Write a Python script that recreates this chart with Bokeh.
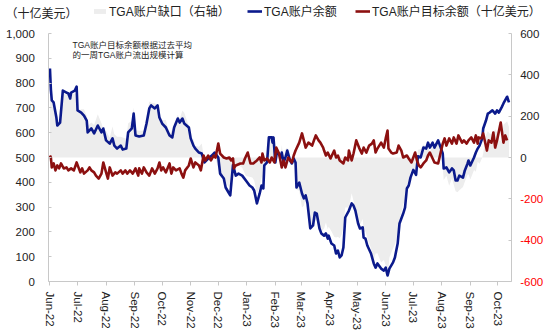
import pandas as pd
from bokeh.plotting import figure
from bokeh.models import (ColumnDataSource, Range1d, LinearAxis, FixedTicker, MonthsTicker,
                          DatetimeTickFormatter, NumeralTickFormatter, Legend, LegendItem, Label)
from bokeh.embed import file_html
from bokeh.resources import INLINE

# ---------------- data (US$ bn) ----------------
balance_dates = [
    "2022-06-01", "2022-06-02", "2022-06-03", "2022-06-05", "2022-06-08", "2022-06-09", "2022-06-12",
    "2022-06-15", "2022-06-19", "2022-06-21", "2022-06-23", "2022-06-24", "2022-06-28", "2022-06-30",
    "2022-07-01", "2022-07-05", "2022-07-08", "2022-07-11", "2022-07-12", "2022-07-16", "2022-07-19",
    "2022-07-23", "2022-07-27", "2022-07-29", "2022-08-01", "2022-08-05", "2022-08-08", "2022-08-10",
    "2022-08-13", "2022-08-17", "2022-08-19", "2022-08-23", "2022-08-25", "2022-08-29", "2022-08-31",
    "2022-09-02", "2022-09-06", "2022-09-11", "2022-09-14", "2022-09-17", "2022-09-19", "2022-09-23",
    "2022-09-26", "2022-09-28", "2022-10-01", "2022-10-05", "2022-10-09", "2022-10-12", "2022-10-14",
    "2022-10-18", "2022-10-20", "2022-10-23", "2022-10-25", "2022-10-30", "2022-11-01", "2022-11-04",
    "2022-11-06", "2022-11-10", "2022-11-13", "2022-11-16", "2022-11-20", "2022-11-24", "2022-11-27",
    "2022-12-01", "2022-12-03", "2022-12-07", "2022-12-09", "2022-12-12", "2022-12-14", "2022-12-17",
    "2022-12-20", "2022-12-23", "2022-12-27", "2022-12-31", "2023-01-04", "2023-01-07", "2023-01-09",
    "2023-01-12", "2023-01-15", "2023-01-17", "2023-01-19", "2023-01-20", "2023-01-23", "2023-01-25",
    "2023-01-28", "2023-01-29", "2023-01-30", "2023-02-01", "2023-02-03", "2023-02-07", "2023-02-08",
    "2023-02-10", "2023-02-12", "2023-02-14", "2023-02-17", "2023-02-19", "2023-02-21", "2023-02-23",
    "2023-02-24", "2023-02-27", "2023-03-02", "2023-03-04", "2023-03-06", "2023-03-08", "2023-03-11",
    "2023-03-14", "2023-03-16", "2023-03-18", "2023-03-21", "2023-03-23", "2023-03-26", "2023-03-28",
    "2023-03-30", "2023-03-31", "2023-04-03", "2023-04-06", "2023-04-08", "2023-04-10", "2023-04-12",
    "2023-04-14", "2023-04-16", "2023-04-18", "2023-04-22", "2023-04-25", "2023-04-27", "2023-04-29",
    "2023-05-02", "2023-05-04", "2023-05-07", "2023-05-08", "2023-05-10", "2023-05-12", "2023-05-16",
    "2023-05-19", "2023-05-21", "2023-05-23", "2023-05-27", "2023-05-30", "2023-06-01", "2023-06-03",
    "2023-06-05", "2023-06-09", "2023-06-11", "2023-06-14", "2023-06-16", "2023-06-20", "2023-06-22",
    "2023-06-24", "2023-06-26", "2023-06-28", "2023-07-01", "2023-07-04", "2023-07-06", "2023-07-09",
    "2023-07-12", "2023-07-15", "2023-07-17", "2023-07-19", "2023-07-22", "2023-07-24", "2023-07-28",
    "2023-07-30", "2023-08-02", "2023-08-03", "2023-08-06", "2023-08-09", "2023-08-12", "2023-08-14",
    "2023-08-16", "2023-08-18", "2023-08-20", "2023-08-24", "2023-08-26", "2023-08-29", "2023-08-30",
    "2023-09-01", "2023-09-05", "2023-09-07", "2023-09-09", "2023-09-11", "2023-09-14", "2023-09-15",
    "2023-09-18", "2023-09-20", "2023-09-22", "2023-09-25", "2023-09-28", "2023-09-30", "2023-10-02",
    "2023-10-05", "2023-10-07", "2023-10-11", "2023-10-13",
]
balance_values = [
    859, 775, 730, 722, 661, 629, 641,
    770, 762, 758, 738, 762, 770, 786,
    690, 681, 669, 649, 601, 617, 597,
    629, 601, 617, 569, 556, 577, 548,
    536, 548, 532, 536, 601, 617, 677,
    589, 585, 589, 637, 698, 710, 698,
    710, 661, 637, 621, 589, 581, 621,
    657, 641, 657, 637, 621, 577, 548,
    536, 520, 516, 480, 496, 508, 520,
    500, 435, 415, 379, 360, 347, 470,
    427, 435, 427, 407, 387, 379, 367,
    315, 355, 387, 375, 468, 480, 581,
    581, 560, 581, 480, 528, 500, 520,
    480, 500, 528, 488, 476, 496, 480,
    379, 399, 355, 335, 347, 315, 214,
    226, 278, 274, 214, 194, 185, 194,
    173, 185, 153, 145, 113, 125, 97,
    105, 137, 258, 286, 315, 306, 286,
    234, 214, 218, 177, 173, 145, 113,
    73, 56, 73, 52, 44, 56, 24,
    52, 77, 97, 153, 234, 274, 298,
    375, 387, 420, 450, 430, 505, 500,
    540, 536, 560, 540, 560, 540, 569,
    548, 516, 456, 460, 440, 456, 448,
    407, 407, 427, 419, 448, 476, 488,
    468, 500, 520, 536, 548, 577, 617,
    649, 677, 681, 690, 677, 690, 681,
    702, 718, 745, 722,
]

target_dates = [
    "2022-06-01", "2022-06-02", "2022-06-03", "2022-06-05", "2022-06-07", "2022-06-09", "2022-06-11",
    "2022-06-13", "2022-06-16", "2022-06-19", "2022-06-21", "2022-06-24", "2022-06-27", "2022-06-30",
    "2022-07-02", "2022-07-04", "2022-07-06", "2022-07-08", "2022-07-12", "2022-07-14", "2022-07-16",
    "2022-07-19", "2022-07-21", "2022-07-24", "2022-07-27", "2022-07-29", "2022-08-01", "2022-08-03",
    "2022-08-05", "2022-08-08", "2022-08-11", "2022-08-13", "2022-08-17", "2022-08-19", "2022-08-22",
    "2022-08-24", "2022-08-27", "2022-08-30", "2022-09-02", "2022-09-05", "2022-09-06", "2022-09-09",
    "2022-09-11", "2022-09-14", "2022-09-17", "2022-09-20", "2022-09-23", "2022-09-26", "2022-09-28",
    "2022-09-30", "2022-10-02", "2022-10-05", "2022-10-09", "2022-10-11", "2022-10-13", "2022-10-16",
    "2022-10-20", "2022-10-22", "2022-10-24", "2022-10-26", "2022-10-30", "2022-11-01", "2022-11-04",
    "2022-11-06", "2022-11-10", "2022-11-12", "2022-11-15", "2022-11-17", "2022-11-20", "2022-11-23",
    "2022-11-26", "2022-11-28", "2022-12-01", "2022-12-03", "2022-12-07", "2022-12-10", "2022-12-13",
    "2022-12-15", "2022-12-17", "2022-12-18", "2022-12-20", "2022-12-25", "2022-12-28", "2022-12-30",
    "2023-01-02", "2023-01-05", "2023-01-08", "2023-01-12", "2023-01-15", "2023-01-17", "2023-01-18",
    "2023-01-20", "2023-01-23", "2023-01-26", "2023-01-28", "2023-01-31", "2023-02-02", "2023-02-05",
    "2023-02-08", "2023-02-10", "2023-02-12", "2023-02-15", "2023-02-19", "2023-02-21", "2023-02-23",
    "2023-02-27", "2023-03-02", "2023-03-04", "2023-03-06", "2023-03-09", "2023-03-13", "2023-03-15",
    "2023-03-17", "2023-03-20", "2023-03-22", "2023-03-25", "2023-03-26", "2023-03-28", "2023-03-30",
    "2023-04-02", "2023-04-06", "2023-04-08", "2023-04-10", "2023-04-12", "2023-04-16", "2023-04-18",
    "2023-04-21", "2023-04-22", "2023-04-25", "2023-04-27", "2023-04-30", "2023-05-03", "2023-05-06",
    "2023-05-08", "2023-05-11", "2023-05-14", "2023-05-17", "2023-05-19", "2023-05-21", "2023-05-23",
    "2023-05-27", "2023-05-30", "2023-06-01", "2023-06-03", "2023-06-04", "2023-06-07", "2023-06-09",
    "2023-06-13", "2023-06-15", "2023-06-18", "2023-06-20", "2023-06-24", "2023-06-26", "2023-06-29",
    "2023-07-01", "2023-07-03", "2023-07-05", "2023-07-07", "2023-07-09", "2023-07-12", "2023-07-15",
    "2023-07-17", "2023-07-19", "2023-07-22", "2023-07-24", "2023-07-28", "2023-07-30", "2023-08-02",
    "2023-08-04", "2023-08-06", "2023-08-09", "2023-08-12", "2023-08-14", "2023-08-17", "2023-08-19",
    "2023-08-23", "2023-08-25", "2023-08-28", "2023-08-30", "2023-09-02", "2023-09-05", "2023-09-07",
    "2023-09-09", "2023-09-10", "2023-09-13", "2023-09-15", "2023-09-19", "2023-09-21", "2023-09-24",
    "2023-09-26", "2023-09-28", "2023-09-30", "2023-10-04", "2023-10-07", "2023-10-09", "2023-10-11",
]
target_values = [
    508, 500, 460, 476, 448, 468, 456,
    476, 456, 460, 448, 456, 448, 480,
    460, 440, 456, 435, 448, 460, 448,
    440, 427, 415, 435, 480, 440, 415,
    460, 427, 440, 435, 448, 435, 448,
    435, 448, 435, 456, 427, 456, 435,
    460, 440, 427, 456, 435, 456, 480,
    448, 460, 440, 476, 435, 460, 448,
    456, 435, 419, 448, 468, 496, 460,
    480, 468, 448, 508, 488, 508, 488,
    508, 500, 556, 516, 500, 496, 500,
    488, 496, 456, 468, 476, 476, 496,
    520, 476, 476, 488, 500, 480, 516,
    488, 496, 480, 500, 480, 540, 516,
    460, 488, 460, 500, 480, 508, 528,
    560, 597, 569, 540, 560, 548, 569,
    589, 569, 560, 540, 528, 508, 520,
    496, 528, 500, 508, 488, 476, 500,
    488, 528, 488, 516, 569, 540, 516,
    540, 520, 548, 556, 569, 520, 536,
    560, 540, 577, 609, 536, 520, 516,
    520, 548, 528, 500, 508, 496, 480,
    500, 520, 488, 468, 460, 476, 488,
    508, 520, 496, 480, 476, 508, 556,
    577, 548, 577, 556, 581, 556, 589,
    560, 569, 556, 569, 581, 560, 589,
    556, 581, 577, 597, 528, 569, 560,
    601, 540, 569, 641, 560, 589, 569,
]

# TGA shortfall (balance minus target), right axis
gap_dates = balance_dates
gap_values = [
    351, 285, 270, 246, 203, 161, 175,
    314, 302, 306, 286, 306, 310, 306,
    220, 233, 234, 201, 153, 169, 157,
    209, 166, 137, 129, 96, 150, 113,
    101, 100, 97, 91, 166, 177, 242,
    133, 129, 129, 197, 271, 265, 263,
    254, 181, 182, 181, 113, 136, 161,
    207, 185, 227, 217, 153, 81, 88,
    56, 52, 68, -20, -12, 20, 15,
    -56, -81, -85, -119, -140, -143, -26,
    -41, -37, -49, -89, -93, -97, -111,
    -173, -145, -93, -130, -32, -16, 93,
    81, 70, 96, -30, -2, 20, 60,
    -8, 40, 48, -2, -4, -12, -48,
    -156, -161, -242, -234, -193, -235, -341,
    -334, -302, -306, -351, -361, -343, -314,
    -347, -335, -357, -383, -387, -383, -391,
    -375, -339, -242, -242, -173, -210, -254,
    -321, -326, -298, -363, -357, -390, -439,
    -496, -464, -463, -508, -496, -521, -585,
    -484, -439, -421, -367, -306, -226, -207,
    -133, -109, -68, -50, -70, 37, 40,
    64, 48, 52, 20, 64, 60, 93,
    40, -40, -109, -88, -137, -100, -133,
    -163, -168, -158, -143, -117, -84, -81,
    -107, -60, -69, -20, -30, 0, 20,
    109, 127, 116, 110, 137, 121, 81,
    82, 158, 176, 147,
]

left_ticks = [0, 100, 200, 300, 400, 500, 600, 700, 800, 900, 1000]
right_ticks = [-600, -400, -200, 0, 200, 400, 600]

unit_text = "（十亿美元）"
note_lines = ["TGA账户目标余额根据过去平均", "的一周TGA账户流出规模计算"]
legend_labels = ["TGA账户缺口（右轴）", "TGA账户余额", "TGA账户目标余额（十亿美元）"]

# ---------------- layout & styles ----------------
W, H = 550, 332
FL, FR, FT, FB = 48.3, 510.7, 33.0, 281.0      # pixel box of the axes inside the canvas
T0, T1 = pd.Timestamp("2022-05-30 18:00"), pd.Timestamp("2023-10-15 10:00")
L0, L1 = 0, 1000
R0, R1 = -600, 600
LEGEND_X = [92, 247, 355]                      # left edge of each legend swatch (px)

FONT = "Liberation Sans, Noto Sans CJK SC"
BLUE = "#0B1A8C"
RED = "#8C1010"
GRAY = "#EDEDED"
AXIS = "#C8C8C8"
TXT = "#222222"

ms0, ms1 = T0.value / 1e6, T1.value / 1e6
kx = (ms1 - ms0) / (FR - FL)
ky = (L1 - L0) / (FB - FT)
kr = (R1 - R0) / (FB - FT)

bal_src = ColumnDataSource(dict(date=pd.to_datetime(balance_dates), v=balance_values))
tgt_src = ColumnDataSource(dict(date=pd.to_datetime(target_dates), v=target_values))
gap_src = ColumnDataSource(dict(date=pd.to_datetime(gap_dates), v=gap_values,
                                zero=[0] * len(gap_values)))

p = figure(width=W, height=H, x_axis_type="datetime", output_backend="svg",
           toolbar_location=None, min_border=0,
           x_range=Range1d(ms0 - FL * kx, ms1 + (W - FR) * kx),
           y_range=Range1d(L0 - (H - FB) * ky, L1 + FT * ky))
p.extra_y_ranges = {"right": Range1d(R0 - (H - FB) * kr, R1 + FT * kr)}
p.outline_line_color = None
p.xgrid.visible = False
p.ygrid.visible = False
p.background_fill_color = "white"
p.border_fill_color = "white"

area = p.varea(x="date", y1="zero", y2="v", source=gap_src, y_range_name="right",
               fill_color=GRAY)
bl = p.line(x="date", y="v", source=bal_src, line_color=BLUE, line_width=2.6, line_join="round")
tl = p.line(x="date", y="v", source=tgt_src, line_color=RED, line_width=2.6, line_join="round")

# x axis
xa = p.xaxis[0]
xa.fixed_location = L0
xa.bounds = (ms0, ms1)
xa.ticker = MonthsTicker(months=list(range(12)))
xa.formatter = DatetimeTickFormatter(months="%b-%y", days="%b-%y", years="%b-%y")
xa.major_label_orientation = "vertical"
xa.major_label_text_font = FONT
xa.major_label_text_font_size = "11.5px"
xa.major_label_text_color = TXT
xa.axis_line_color = AXIS
xa.major_tick_line_color = AXIS
xa.major_tick_out = 4
xa.major_tick_in = 0
xa.minor_tick_line_color = None
xa.major_label_standoff = 6

# left axis
ya = p.yaxis[0]
ya.fixed_location = ms0
ya.bounds = (L0, L1)
ya.ticker = FixedTicker(ticks=left_ticks)
ya.formatter = NumeralTickFormatter(format="0,0")
ya.major_label_text_font = FONT
ya.major_label_text_font_size = "11.5px"
ya.major_label_text_color = TXT
ya.axis_line_color = AXIS
ya.major_tick_line_color = AXIS
ya.major_tick_in = 3
ya.major_tick_out = 0
ya.minor_tick_line_color = None
ya.major_label_standoff = 14

# right axis (black labels for >= 0; negatives are written in red below)
ra = LinearAxis(y_range_name="right", ticker=FixedTicker(ticks=right_ticks),
                fixed_location=ms1, bounds=(R0, R1))
ra.major_label_overrides = {t: "" for t in right_ticks if t < 0}
ra.major_label_text_font = FONT
ra.major_label_text_font_size = "11.5px"
ra.major_label_text_color = TXT
ra.axis_line_color = AXIS
ra.major_tick_line_color = AXIS
ra.major_tick_in = 3
ra.major_tick_out = 0
ra.minor_tick_line_color = None
ra.major_label_standoff = 9
p.add_layout(ra, "right")

for t in right_ticks:
    if t < 0:
        p.add_layout(Label(x=FR + 9, x_units="screen", y=t, y_range_name="right", text=str(t),
                           text_color="#FF0000", text_font=FONT, text_font_size="11.5px",
                           text_baseline="middle", text_align="left"))

# legend: one entry per block so each sits where the reference puts it
for lx, lab, rend in zip(LEGEND_X, legend_labels, [area, bl, tl]):
    lg = Legend(items=[LegendItem(label=lab, renderers=[rend])],
                orientation="horizontal", location=(lx, H - 19),
                glyph_width=15, glyph_height=6, label_height=14, label_standoff=2,
                spacing=0, padding=0, margin=0,
                border_line_color=None, background_fill_alpha=0,
                label_text_font=FONT, label_text_font_size="12px", label_text_color=TXT)
    p.add_layout(lg, "center")

p.add_layout(Label(x=5, y=H - 13, x_units="screen", y_units="screen", text=unit_text,
                   text_font=FONT, text_font_size="12px", text_color=TXT,
                   text_baseline="middle"))
for i, line in enumerate(note_lines):
    p.add_layout(Label(x=72, y=H - 44 - 10 * i, x_units="screen", y_units="screen", text=line,
                       text_font=FONT, text_font_size="8.5px", text_color=TXT,
                       text_baseline="middle"))

open("out.html", "w").write(file_html(p, INLINE))
